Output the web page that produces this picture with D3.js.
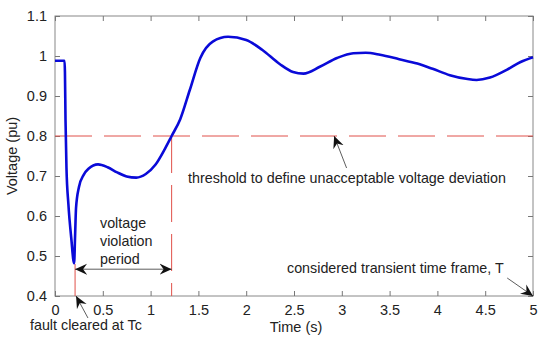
<!DOCTYPE html>
<html>
<head>
<meta charset="utf-8">
<script src="https://cdn.jsdelivr.net/npm/d3@7"></script>
<style>
  body { margin: 0; background: #fff; }
  svg text { font-family: "Liberation Sans", Arial, sans-serif; fill: #222; }
</style>
</head>
<body>
<div id="chart"></div>
<script>
// voltage recovery after a fault - time series
const time = [0, 0.1, 0.104, 0.11, 0.12, 0.14, 0.17, 0.2, 0.21, 0.22, 0.25, 0.3, 0.35, 0.45, 0.55, 0.65, 0.75, 0.85,
  0.95, 1.05, 1.15, 1.22, 1.31, 1.41, 1.52, 1.65, 1.81, 2.0, 2.17, 2.35, 2.49, 2.6, 2.77, 2.95, 3.12, 3.25,
  3.4, 3.6, 3.79, 3.95, 4.13, 4.3, 4.41, 4.55, 4.73, 4.87, 5.0];
const voltage = [0.988, 0.988, 0.96, 0.84, 0.72, 0.63, 0.545, 0.482, 0.55, 0.62, 0.672, 0.703, 0.718, 0.729, 0.722,
  0.709, 0.699, 0.696, 0.705, 0.728, 0.768, 0.8, 0.842, 0.915, 0.995, 1.036, 1.048, 1.04, 1.015, 0.98, 0.96,
  0.956, 0.973, 0.995, 1.007, 1.008, 1.003, 0.992, 0.981, 0.968, 0.952, 0.943, 0.94, 0.946, 0.966, 0.985, 0.997];

const xTicks = [0, 0.5, 1, 1.5, 2, 2.5, 3, 3.5, 4, 4.5, 5];
const yTicks = [0.4, 0.5, 0.6, 0.7, 0.8, 0.9, 1, 1.1];

const threshold = 0.8;
const tClear = 0.21;     // fault cleared
const tRecover = 1.22;   // voltage back above threshold
const tEnd = 5;

const width = 550, height = 340;
const margin = {top: 16, right: 17, bottom: 44, left: 55};

const svg = d3.select('#chart').append('svg')
  .attr('width', width)
  .attr('height', height);

const x = d3.scaleLinear().domain([0, 5]).range([margin.left, width - margin.right]);
const y = d3.scaleLinear().domain([0.4, 1.1]).range([height - margin.bottom, margin.top]);

// arrow heads
const defs = svg.append('defs');
defs.append('marker')
  .attr('id', 'head')
  .attr('viewBox', '-12 -6 13 12')
  .attr('refX', 0).attr('refY', 0)
  .attr('markerWidth', 13).attr('markerHeight', 12)
  .attr('markerUnits', 'userSpaceOnUse')
  .attr('orient', 'auto-start-reverse')
  .append('path')
  .attr('d', 'M0,0 L-12,-5.5 L-8,0 L-12,5.5 Z')
  .attr('fill', '#111');

// frame and axes
const frame = svg.append('g');
frame.append('rect')
  .attr('x', margin.left).attr('y', margin.top)
  .attr('width', width - margin.left - margin.right)
  .attr('height', height - margin.top - margin.bottom)
  .attr('fill', 'none')
  .attr('stroke', '#888');

function styleAxis(g) {
  g.select('.domain').remove();
  g.selectAll('.tick line').attr('stroke', '#777');
  g.selectAll('.tick text').attr('font-size', 14.5).attr('fill', '#222');
}

svg.append('g')
  .attr('transform', `translate(0,${height - margin.bottom})`)
  .call(d3.axisBottom(x).tickValues(xTicks).tickSize(-5).tickPadding(9).tickFormat(d3.format('')))
  .call(styleAxis);
svg.append('g')
  .attr('transform', `translate(0,${margin.top})`)
  .call(d3.axisTop(x).tickValues(xTicks).tickSize(-5).tickFormat(''))
  .call(styleAxis);
svg.append('g')
  .attr('transform', `translate(${margin.left},0)`)
  .call(d3.axisLeft(y).tickValues(yTicks).tickSize(-5).tickPadding(8).tickFormat(d3.format('')))
  .call(styleAxis);
svg.append('g')
  .attr('transform', `translate(${width - margin.right},0)`)
  .call(d3.axisRight(y).tickValues(yTicks).tickSize(-5).tickFormat(''))
  .call(styleAxis);

svg.append('text')
  .attr('x', x(2.5) + 2).attr('y', 332)
  .attr('text-anchor', 'middle')
  .attr('font-size', 14.5)
  .text('Time (s)');
svg.append('text')
  .attr('transform', `translate(17,${y(0.75)}) rotate(-90)`)
  .attr('text-anchor', 'middle')
  .attr('font-size', 14.5)
  .text('Voltage (pu)');

// threshold and time markers
svg.append('line')
  .attr('x1', x(0)).attr('x2', x(5))
  .attr('y1', y(threshold)).attr('y2', y(threshold))
  .attr('stroke', '#e0504a').attr('stroke-width', 1)
  .attr('stroke-dasharray', '37,12');
svg.append('line')
  .attr('x1', x(tClear)).attr('x2', x(tClear))
  .attr('y1', y(0.48)).attr('y2', y(0.4))
  .attr('stroke', '#e0504a').attr('stroke-width', 1);
svg.append('line')
  .attr('x1', x(tRecover)).attr('x2', x(tRecover))
  .attr('y1', y(threshold)).attr('y2', y(0.4))
  .attr('stroke', '#e0504a').attr('stroke-width', 1)
  .attr('stroke-dasharray', '37,12');

// voltage curve
const line = d3.line()
  .x(d => x(d[0]))
  .y(d => y(d[1]))
  .curve(d3.curveMonotoneX);
svg.append('path')
  .datum(d3.zip(time, voltage))
  .attr('d', line)
  .attr('fill', 'none')
  .attr('stroke', '#0a0ad8')
  .attr('stroke-width', 2.6)
  .attr('stroke-linejoin', 'round');

// annotations
function arrow(x1, y1, x2, y2, both) {
  const a = svg.append('line')
    .attr('x1', x1).attr('y1', y1).attr('x2', x2).attr('y2', y2)
    .attr('stroke', '#333').attr('stroke-width', 0.8)
    .attr('marker-end', 'url(#head)');
  if (both) a.attr('marker-start', 'url(#head)');
}

arrow(x(tClear), y(0.467), x(tRecover), y(0.467), true);
arrow(x(0.345), y(0.345), x(tClear) + 1, y(0.4));
arrow(x(3.05), y(threshold) + 32, x(2.92), y(threshold));
arrow(x(4.73), y(0.4) - 18, x(tEnd), y(0.4));

const notes = svg.append('g').attr('font-size', 14.3);
notes.append('text').attr('x', 100).attr('y', 228).text('voltage');
notes.append('text').attr('x', 100).attr('y', 246).text('violation');
notes.append('text').attr('x', 100).attr('y', 264).text('period');
notes.append('text').attr('x', 188).attr('y', 183).text('threshold to define unacceptable voltage deviation');
notes.append('text').attr('x', 287).attr('y', 273).text('considered transient time frame, T');
notes.append('text').attr('x', 30).attr('y', 330).text('fault cleared at Tc');
</script>
</body>
</html>
